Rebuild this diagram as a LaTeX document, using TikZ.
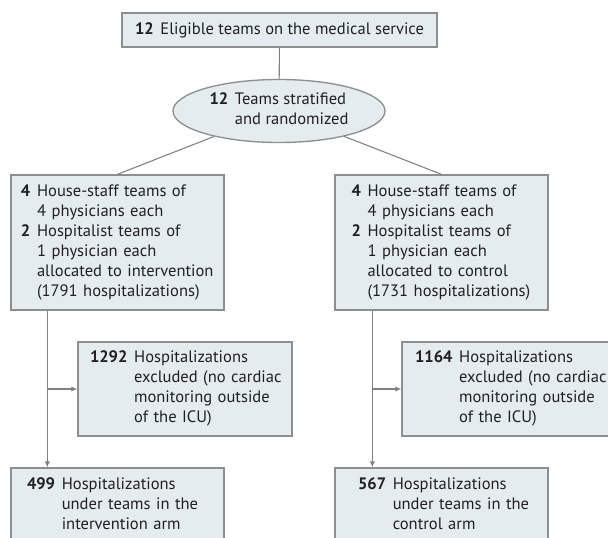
\documentclass[tikz,border=0pt]{standalone}
\usepackage{fontspec}
\setmainfont{PT Sans}
\usetikzlibrary{arrows.meta,positioning,shapes.geometric}
\definecolor{boxfill}{HTML}{E5ECF0}
\definecolor{boxline}{HTML}{8E8E8E}
\definecolor{flowline}{HTML}{808080}
\definecolor{txtcol}{HTML}{231F20}
\newcommand{\pxu}{0.75pt}
\newcommand{\nitem}[2]{\textbf{#1} & #2}

\begin{document}
\begin{tikzpicture}[x=0.75pt,y=-0.75pt,
    flowbox/.style={draw=boxline, fill=boxfill, line width=1pt, text=txtcol,
      inner sep=0pt, align=left, font=\fontsize{12.4}{15}\selectfont},
    flowell/.style={flowbox, ellipse, align=center},
    flowline/.style={draw=flowline, line width=0.8pt},
    flowarr/.style={flowline, -{Latex[length=4.5pt,width=4pt]}}]

      % frame
      \clip (0,0) rectangle (608,538);

      % boxes
      \node[flowbox, minimum width=315*\pxu, minimum height=34*\pxu] (eligible) at (279.5,30)
        {\textbf{12}\hspace{5pt}Eligible teams on the medical service};
      \node[flowell, minimum width=212*\pxu, minimum height=63*\pxu] (random) at (279,111)
        {\begin{tabular}{@{}r@{\hspace{5pt}}l@{}}
          \nitem{12}{Teams stratified}\\
          & and randomized
        \end{tabular}};

      \node[flowbox, minimum width=213*\pxu, minimum height=135*\pxu, text width=193*\pxu] (interv) at (117.5,242.5)
        {\begin{tabular}{@{}r@{\hspace{5pt}}l@{}}
          \nitem{4}{House-staff teams of}\\
          & 4 physicians each\\
          \nitem{2}{Hospitalist teams of}\\
          & 1 physician each\\
          & allocated to intervention\\
          & (1791 hospitalizations)
        \end{tabular}};
      \node[flowbox, minimum width=213*\pxu, minimum height=135*\pxu, text width=180*\pxu] (control) at (441.5,242.5)
        {\begin{tabular}{@{}r@{\hspace{5pt}}l@{}}
          \nitem{4}{House-staff teams of}\\
          & 4 physicians each\\
          \nitem{2}{Hospitalist teams of}\\
          & 1 physician each\\
          & allocated to control\\
          & (1731 hospitalizations)
        \end{tabular}};

      \node[flowbox, minimum width=214*\pxu, minimum height=94*\pxu, text width=190*\pxu] (exclint) at (185,389)
        {\begin{tabular}{@{}r@{\hspace{5pt}}l@{}}
          \nitem{1292}{Hospitalizations}\\
          & excluded (no cardiac\\
          & monitoring outside\\
          & of the ICU)
        \end{tabular}};
      \node[flowbox, minimum width=214*\pxu, minimum height=94*\pxu, text width=188*\pxu] (exclctl) at (509,389)
        {\begin{tabular}{@{}r@{\hspace{5pt}}l@{}}
          \nitem{1164}{Hospitalizations}\\
          & excluded (no cardiac\\
          & monitoring outside\\
          & of the ICU)
        \end{tabular}};

      \node[flowbox, minimum width=213*\pxu, minimum height=76*\pxu, text width=181*\pxu] (armint) at (117.5,506)
        {\begin{tabular}{@{}r@{\hspace{5pt}}l@{}}
          \nitem{499}{Hospitalizations}\\
          & under teams in the\\
          & intervention arm
        \end{tabular}};
      \node[flowbox, minimum width=213*\pxu, minimum height=76*\pxu, text width=167*\pxu] (armctl) at (441.5,506)
        {\begin{tabular}{@{}r@{\hspace{5pt}}l@{}}
          \nitem{567}{Hospitalizations}\\
          & under teams in the\\
          & control arm
        \end{tabular}};

      % connectors
      \draw[flowline] (eligible) -- (random);
      \draw[flowline] (random) -- (interv.north);
      \draw[flowline] (random) -- (control.north);

      \coordinate (stemint) at ([xshift=37*\pxu]interv.south west);
      \coordinate (stemctl) at ([xshift=38*\pxu]control.south west);
      \draw[flowarr] (stemint) -- (stemint |- armint.north);
      \draw[flowarr] (stemint |- exclint.west) -- (exclint.west);
      \draw[flowarr] (stemctl) -- (stemctl |- armctl.north);
      \draw[flowarr] (stemctl |- exclctl.west) -- (exclctl.west);
    \end{tikzpicture}
\end{document}
